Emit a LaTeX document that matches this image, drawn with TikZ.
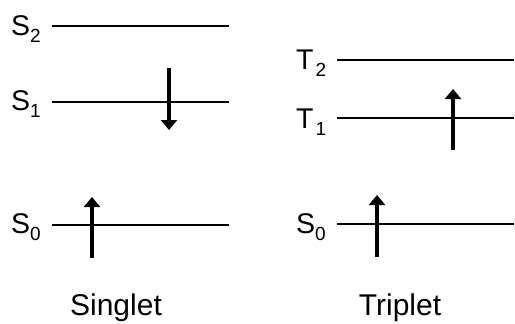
\documentclass[tikz,border=0pt]{standalone}
\usepackage{fontspec}
\setmainfont{Liberation Sans}
\usetikzlibrary{arrows.meta}
\newcommand{\lvl}[3]{#1\kern#3pt\raisebox{-7pt}{\fontsize{19}{19}\selectfont #2}}
\tikzset{
  level/.style={line width=2.6pt},
  spin/.style={line width=3.6pt,-{Triangle[width=16pt,length=10pt]}},
  lab/.style={anchor=base west,inner sep=0pt,font=\fontsize{28.5}{30}\selectfont},
  title/.style={anchor=base,inner sep=0pt,font=\fontsize{30}{32}\selectfont}
}
\begin{document}
\begin{tikzpicture}[x=1pt,y=-1pt]
\useasboundingbox (0,0) rectangle (515,324);
% Singlet levels
\coordinate (s2a) at (52,26);  \coordinate (s2b) at (229,26);
\coordinate (s1a) at (52,102); \coordinate (s1b) at (229,102);
\coordinate (s0a) at (52,225); \coordinate (s0b) at (229,225);
\draw[level] (s2a) -- (s2b);
\draw[level] (s1a) -- (s1b);
\draw[level] (s0a) -- (s0b);
\node[lab] (S2) at (11,35) {\lvl{S}{2}{0}};
\node[lab] (S1) at (11,110) {\lvl{S}{1}{0}};
\node[lab] (S0) at (11,233) {\lvl{S}{0}{0}};
% Singlet spins
\coordinate (d1a) at (169,68);  \coordinate (d1b) at (169,130);
\coordinate (u1a) at (92,258);  \coordinate (u1b) at (92,197);
\draw[spin] (d1a) -- (d1b);
\draw[spin] (u1a) -- (u1b);
\node[title] (singlet) at (116,315) {Singlet};
% Triplet levels
\coordinate (t2a) at (337,60);  \coordinate (t2b) at (514,60);
\coordinate (t1a) at (337,118); \coordinate (t1b) at (514,118);
\coordinate (t0a) at (337,224); \coordinate (t0b) at (514,224);
\draw[level] (t2a) -- (t2b);
\draw[level] (t1a) -- (t1b);
\draw[level] (t0a) -- (t0b);
\node[lab] (T2) at (296,69) {\lvl{T}{2}{2}};
\node[lab] (T1) at (296,128) {\lvl{T}{1}{2}};
\node[lab] (T0) at (296,233) {\lvl{S}{0}{0}};
% Triplet spins
\coordinate (u2a) at (453,150); \coordinate (u2b) at (453,89);
\coordinate (u3a) at (377,257); \coordinate (u3b) at (377,195);
\draw[spin] (u2a) -- (u2b);
\draw[spin] (u3a) -- (u3b);
\node[title] (triplet) at (400,315) {Triplet};
\end{tikzpicture}
\end{document}
